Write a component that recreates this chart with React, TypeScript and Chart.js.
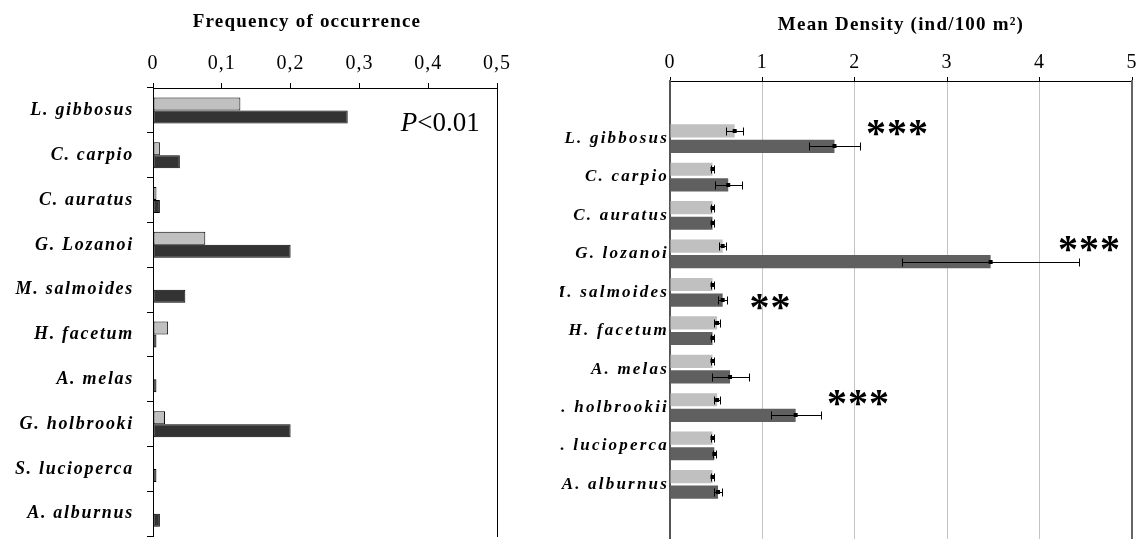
import React, { useEffect, useRef } from "react";
import { Chart, registerables } from "chart.js";

Chart.register(...registerables);

// ---------- data ----------
const speciesFreq = [
  "L. gibbosus",
  "C. carpio",
  "C. auratus",
  "G. Lozanoi",
  "M. salmoides",
  "H. facetum",
  "A. melas",
  "G. holbrooki",
  "S. lucioperca",
  "A. alburnus",
];
const freqLight = [0.127, 0.01, 0.005, 0.076, 0, 0.022, 0, 0.0175, 0, 0];
const freqDark = [0.283, 0.039, 0.01, 0.2, 0.047, 0.005, 0.005, 0.2, 0.005, 0.01];
const freqTicks = ["0", "0,1", "0,2", "0,3", "0,4", "0,5"];
const freqTitle = "Frequency of occurrence";
const pValueParts = ["P", "<0.01"];
const pValuePos = [0.36, 0.46]; // x value, category index

const speciesDens = [
  "L. gibbosus",
  "C. carpio",
  "C. auratus",
  "G. lozanoi",
  "M. salmoides",
  "H. facetum",
  "A. melas",
  "G. holbrookii",
  "S. lucioperca",
  "A. alburnus",
];
const densLight = [0.7, 0.46, 0.46, 0.57, 0.46, 0.51, 0.46, 0.51, 0.46, 0.46];
const densLightErr = [0.09, 0.015, 0.015, 0.035, 0.015, 0.03, 0.015, 0.03, 0.015, 0.015];
const densDark = [1.78, 0.63, 0.46, 3.47, 0.57, 0.46, 0.65, 1.36, 0.48, 0.52];
const densDarkErr = [0.28, 0.145, 0.015, 0.96, 0.05, 0.015, 0.2, 0.27, 0.015, 0.04];
const densTicks = ["0", "1", "2", "3", "4", "5"];
const densTitle = "Mean Density (ind/100 m²)";

const sigIndex = [0, 3, 4, 7];
const sigText = ["***", "***", "**", "***"];
const sigX = [2.12, 4.2, 0.86, 1.7];
const sigDy = [-0.255, -0.234, 0.276, -0.224];

const SERIF = "'Liberation Serif', 'Times New Roman', Times, serif";

export default function App() {
  const leftRef = useRef<HTMLCanvasElement | null>(null);
  const rightRef = useRef<HTMLCanvasElement | null>(null);

  useEffect(() => {
    document.body.style.margin = "0";
    document.body.style.overflow = "hidden";

    // ---------- left chart ----------
    const leftPlugin = {
      id: "leftDeco",
      beforeDraw(chart: any) {
        chart.ctx.letterSpacing = "1px";
      },
      afterDatasetsDraw(chart: any) {
        chart.ctx.letterSpacing = "1.7px";
      },
      afterDraw(chart: any) {
        const ctx = chart.ctx;
        const xs = chart.scales.x;
        const ys = chart.scales.y;
        const area = chart.chartArea;
        ctx.save();
        ctx.letterSpacing = "1.2px";
        ctx.fillStyle = "#000";
        ctx.textAlign = "center";
        ctx.textBaseline = "alphabetic";
        ctx.font = `bold 19px ${SERIF}`;
        ctx.fillText(freqTitle, (area.left + area.right) / 2 - 18, 27);

        ctx.letterSpacing = "0px";
        ctx.textAlign = "left";
        const px = xs.getPixelForValue(pValuePos[0]);
        const py = ys.getPixelForValue(pValuePos[1]);
        ctx.font = `italic 27px ${SERIF}`;
        ctx.fillText(pValueParts[0], px, py);
        const w = ctx.measureText(pValueParts[0]).width;
        ctx.font = `27px ${SERIF}`;
        ctx.fillText(pValueParts[1], px + w, py);
        ctx.restore();
        ctx.letterSpacing = "0px";
      },
    };

    const left = new Chart(leftRef.current as HTMLCanvasElement, {
      type: "bar",
      data: {
        labels: speciesFreq,
        datasets: [
          {
            data: freqLight,
            backgroundColor: "#c0c0c0",
            borderColor: "#000",
            borderWidth: 1,
            borderSkipped: false,
            categoryPercentage: 0.58,
            barPercentage: 1,
          },
          {
            data: freqDark,
            backgroundColor: "#333333",
            borderColor: "#000",
            borderWidth: 1,
            borderSkipped: false,
            categoryPercentage: 0.58,
            barPercentage: 1,
          },
        ],
      },
      options: {
        indexAxis: "y",
        responsive: false,
        maintainAspectRatio: false,
        animation: false,
        layout: { padding: { left: 0, right: 63, top: 0, bottom: 14 } },
        plugins: {
          legend: { display: false },
          tooltip: { enabled: false },
          title: { display: false },
        },
        scales: {
          x: {
            type: "linear",
            position: "top",
            min: 0,
            max: 0.5,
            ticks: {
              stepSize: 0.1,
              padding: 7,
              color: "#000",
              font: { family: SERIF, size: 20 },
              maxRotation: 0,
              autoSkip: false,
              callback: (_v: any, i: number) => freqTicks[i],
            },
            grid: {
              drawOnChartArea: false,
              drawTicks: true,
              tickLength: 5,
              tickColor: "#000",
              color: "#000",
            },
            border: { display: true, color: "#000", width: 1 },
            afterFit: (s: any) => {
              s.height = 88;
            },
          },
          y: {
            position: "left",
            ticks: {
              padding: 13,
              color: "#000",
              font: { family: SERIF, size: 18, style: "italic", weight: "bold" },
              autoSkip: false,
              z: 1,
            },
            grid: {
              offset: true,
              drawOnChartArea: false,
              drawTicks: true,
              tickLength: 6,
              tickColor: "#000",
              color: "#000",
            },
            border: { display: true, color: "#000", width: 1 },
            afterFit: (s: any) => {
              s.width = 153;
            },
          },
          y2: {
            type: "category",
            position: "right",
            labels: speciesFreq,
            ticks: { display: false },
            grid: { display: false, drawTicks: false },
            border: { display: true, color: "#000", width: 1 },
            afterFit: (s: any) => {
              s.width = 0;
            },
          },
        },
      } as any,
      plugins: [leftPlugin],
    });

    // ---------- right chart ----------
    const padLabels = ["", ...speciesDens, ""];
    const padLight = [null, ...densLight, null];
    const padDark = [null, ...densDark, null];
    const padErr = [
      [null, ...densLightErr, null],
      [null, ...densDarkErr, null],
    ];

    const rightPlugin = {
      id: "rightDeco",
      beforeDraw(chart: any) {
        chart.ctx.letterSpacing = "1.2px";
      },
      afterDatasetsDraw(chart: any) {
        const ctx = chart.ctx;
        const xs = chart.scales.x;
        ctx.save();
        ctx.strokeStyle = "#000";
        ctx.fillStyle = "#000";
        ctx.lineWidth = 1;
        chart.data.datasets.forEach((ds: any, di: number) => {
          const meta = chart.getDatasetMeta(di);
          meta.data.forEach((bar: any, i: number) => {
            const v = ds.data[i];
            const e = padErr[di][i];
            if (v == null || e == null) return;
            const x0 = Math.round(xs.getPixelForValue(v - e)) + 0.5;
            const x1 = Math.round(xs.getPixelForValue(v + e)) + 0.5;
            const xc = xs.getPixelForValue(v);
            const yc = Math.round(bar.y) + 0.5;
            ctx.beginPath();
            ctx.moveTo(x0, yc);
            ctx.lineTo(x1, yc);
            ctx.moveTo(x0, yc - 4);
            ctx.lineTo(x0, yc + 4);
            ctx.moveTo(x1, yc - 4);
            ctx.lineTo(x1, yc + 4);
            ctx.stroke();
            ctx.fillRect(xc - 2, yc - 2.5, 4, 4);
          });
        });
        ctx.restore();
        ctx.letterSpacing = "2.2px";
      },
      afterDraw(chart: any) {
        const ctx = chart.ctx;
        const xs = chart.scales.x;
        const ys = chart.scales.y;
        ctx.save();
        ctx.letterSpacing = "1px";
        ctx.fillStyle = "#000";
        ctx.textAlign = "left";
        ctx.textBaseline = "alphabetic";
        ctx.font = `bold 40px ${SERIF}`;
        sigIndex.forEach((idx, k) => {
          const x = xs.getPixelForValue(sigX[k]);
          const y = ys.getPixelForValue(idx + 1 + sigDy[k]);
          ctx.fillText(sigText[k], x, y + 17);
        });
        ctx.restore();
        ctx.letterSpacing = "0px";
      },
    };

    const right = new Chart(rightRef.current as HTMLCanvasElement, {
      type: "bar",
      data: {
        labels: padLabels,
        datasets: [
          {
            data: padLight,
            backgroundColor: "#c0c0c0",
            borderWidth: 0,
            categoryPercentage: 0.81,
            barPercentage: 0.85,
          },
          {
            data: padDark,
            backgroundColor: "#606060",
            borderWidth: 0,
            categoryPercentage: 0.81,
            barPercentage: 0.85,
          },
        ],
      },
      options: {
        indexAxis: "y",
        responsive: false,
        maintainAspectRatio: false,
        animation: false,
        layout: { padding: { left: 0, right: 9, top: 0, bottom: 18 } },
        plugins: {
          legend: { display: false },
          tooltip: { enabled: false },
          title: { display: false },
        },
        scales: {
          x: {
            type: "linear",
            position: "top",
            min: 0,
            max: 5,
            ticks: {
              stepSize: 1,
              padding: 2,
              color: "#000",
              font: { family: SERIF, size: 20 },
              maxRotation: 0,
              autoSkip: false,
              callback: (_v: any, i: number) => densTicks[i],
            },
            grid: {
              drawOnChartArea: true,
              color: "#c4c4c4",
              lineWidth: 1,
              borderDash: [2, 2],
              drawTicks: true,
              tickLength: 4,
              tickColor: "#000",
              tickBorderDash: [],
            },
            border: { display: true, color: "#000", width: 1 },
            title: {
              display: true,
              text: densTitle,
              color: "#000",
              font: { family: SERIF, size: 19, weight: "bold" },
              padding: { top: 14, bottom: 0 },
            },
            afterFit: (s: any) => {
              s.height = 81;
            },
          },
          y: {
            position: "left",
            ticks: {
              padding: 1,
              color: "#000",
              font: { family: SERIF, size: 17, style: "italic", weight: "bold" },
              autoSkip: false,
              z: 1,
            },
            grid: { display: false, drawTicks: false },
            border: { display: true, color: "#555", width: 2 },
            afterFit: (s: any) => {
              s.width = 110;
            },
          },
          y2: {
            type: "category",
            position: "right",
            labels: padLabels,
            ticks: { display: false },
            grid: { display: false, drawTicks: false },
            border: { display: true, color: "#666", width: 2 },
            afterFit: (s: any) => {
              s.width = 0;
            },
          },
        },
      } as any,
      plugins: [rightPlugin],
    });

    return () => {
      left.destroy();
      right.destroy();
    };
  }, []);

  return (
    <div style={{ position: "relative", width: 1141, height: 539, overflow: "hidden", background: "#fff" }}>
      <canvas ref={leftRef} width={560} height={560} style={{ position: "absolute", left: 0, top: 0 }} />
      <canvas ref={rightRef} width={581} height={560} style={{ position: "absolute", left: 560, top: 0 }} />
    </div>
  );
}
